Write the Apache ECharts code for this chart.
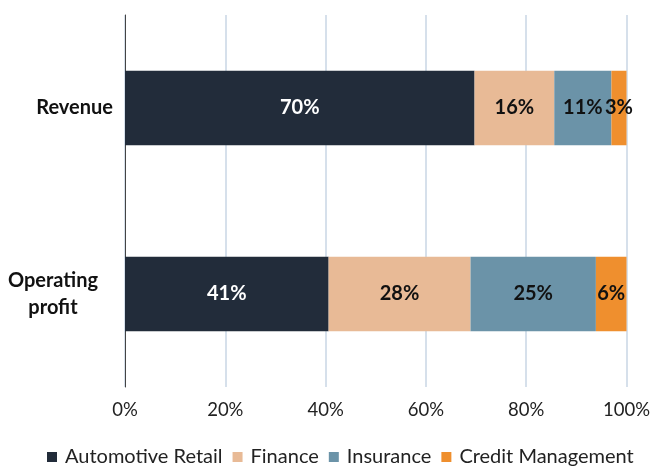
<!DOCTYPE html>
<html>
<head>
<meta charset="utf-8">
<script src="https://cdn.jsdelivr.net/npm/echarts@6/dist/echarts.min.js"></script>
<style>
  html, body { margin: 0; padding: 0; background: #fff; }
  #chart { width: 653px; height: 468px; }
</style>
</head>
<body>
<div id="chart"></div>
<script>
// categories (top to bottom)
var categories = ['Revenue', 'Operating\nprofit'];
// share of each segment, in % (labels are rounded)
var automotiveRetail = [69.7, 40.6];
var finance = [15.9, 28.3];
var insurance = [11.4, 25.0];
var creditManagement = [3.0, 6.1];
var seriesNames = ['Automotive Retail', 'Finance', 'Insurance', 'Credit Management'];
var seriesColors = ['#222c3a', '#e8ba96', '#6b93a8', '#ef8f2e'];
var labelColors = ['#ffffff', '#111111', '#111111', '#111111'];
var xTicks = [0, 20, 40, 60, 80, 100];

var chart = echarts.init(document.getElementById('chart'));
var allData = [automotiveRetail, finance, insurance, creditManagement];

var series = allData.map(function (vals, i) {
    return {
        name: seriesNames[i],
        type: 'bar',
        stack: 'total',
        barCategoryGap: '60%',
        data: vals,
        itemStyle: { color: seriesColors[i] },
        label: {
            show: true,
            position: 'inside',
            formatter: function (p) { return Math.round(p.value) + '%' },
            color: labelColors[i],
            fontFamily: 'Lato',
            fontWeight: 'bold',
            fontSize: 20
        },
        emphasis: { disabled: true }
    }
})

var option = {
    animation: false,
    textStyle: { fontFamily: 'Lato' },
    color: seriesColors,
    grid: { left: 125, right: 26, top: 15, bottom: 81, containLabel: false },
    legend: {
        top: 442,
        left: 42,
        itemWidth: 10,
        itemHeight: 10,
        itemGap: 10,
        icon: 'rect',
        textStyle: { fontFamily: 'Lato', fontSize: 20, color: '#222', padding: [0, 0, 0, 3] },
        data: seriesNames
    },
    xAxis: {
        type: 'value',
        min: xTicks[0],
        max: xTicks[xTicks.length - 1],
        interval: 20,
        axisLine: { show: false },
        axisTick: { show: false },
        axisLabel: {
            formatter: '{value}%',
            fontFamily: 'Lato',
            fontSize: 18.5,
            color: '#222',
            margin: 14
        },
        splitLine: { show: true, lineStyle: { color: '#d6e0eb', width: 2 } }
    },
    yAxis: {
        type: 'category',
        inverse: true,
        data: categories,
        axisLine: { show: true, lineStyle: { color: '#444', width: 1 } },
        axisTick: { show: false },
        axisLabel: {
            fontFamily: 'Lato',
            fontWeight: 'bold',
            fontSize: 20,
            color: '#111',
            margin: 12,
            align: 'right',
            formatter: function (v) {
                return v.indexOf('\n') >= 0 ? '{op|' + v.replace('\n', '}\n{op|') + '}' : v
            },
            rich: {
                op: {
                    fontFamily: 'Lato',
                    fontWeight: 'bold',
                    fontSize: 20,
                    color: '#111',
                    align: 'center',
                    lineHeight: 27,
                    padding: [0, 15, 0, 0]
                }
            }
        }
    },
    series: series
};
chart.setOption(option);
</script>
</body>
</html>
